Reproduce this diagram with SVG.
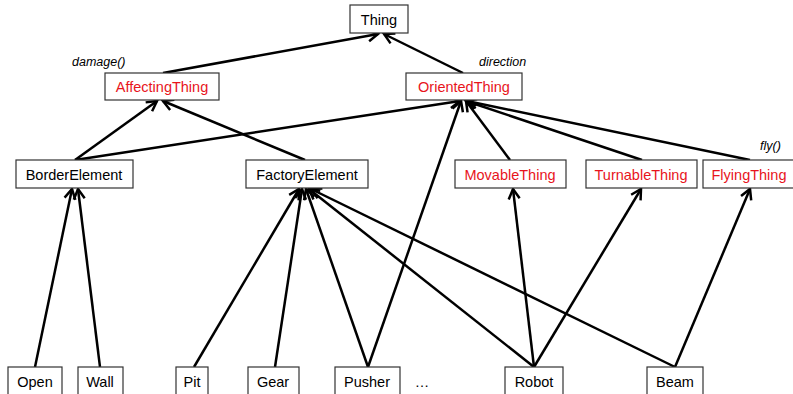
<svg xmlns="http://www.w3.org/2000/svg" width="793" height="394" viewBox="0 0 793 394">
<defs>
<marker id="arr" markerUnits="userSpaceOnUse" markerWidth="14" markerHeight="14" viewBox="0 0 14 14" refX="12" refY="7" orient="auto">
<path d="M2,1.5 L12,7 L2,12.5" fill="none" stroke="#000" stroke-width="2.5" stroke-linejoin="miter"/>
</marker>
</defs>
<style>
rect{fill:#fff;stroke:#333;stroke-width:1.2}
text{font-family:"Liberation Sans",Arial,sans-serif;font-size:14.5px;text-anchor:middle;fill:#000}
.red{fill:#e8141c}
.it{font-style:italic;font-size:12.5px;text-anchor:start}
#edges line{stroke:#000;stroke-width:2.5;marker-end:url(#arr)}
</style>
<g id="edges">
<line x1="163" y1="73" x2="378" y2="34"/>
<line x1="463" y1="73" x2="384" y2="34"/>
<line x1="75" y1="160" x2="157" y2="101"/>
<line x1="305" y1="160" x2="163" y2="101"/>
<line x1="75" y1="160" x2="460" y2="101"/>
<line x1="510" y1="160" x2="466" y2="101"/>
<line x1="642" y1="160" x2="466" y2="101"/>
<line x1="750" y1="160" x2="467" y2="101"/>
<line x1="368" y1="367" x2="461" y2="101"/>
<line x1="35" y1="367" x2="72" y2="189"/>
<line x1="100" y1="367" x2="78" y2="189"/>
<line x1="194" y1="367" x2="299" y2="189"/>
<line x1="275" y1="367" x2="302" y2="189"/>
<line x1="368" y1="367" x2="306" y2="189"/>
<line x1="534" y1="367" x2="309" y2="189"/>
<line x1="675" y1="367" x2="311" y2="189"/>
<line x1="534" y1="367" x2="513" y2="189"/>
<line x1="534" y1="367" x2="641" y2="189"/>
<line x1="675" y1="367" x2="750" y2="189"/>
</g>
<g id="thing"><rect x="350" y="5" width="58" height="28"/><text x="379" y="25">Thing</text></g>
<g id="affectingThing"><rect x="105" y="73" width="114" height="27"/><text class="red" x="162" y="92">AffectingThing</text><text class="it" x="72" y="66">damage()</text></g>
<g id="orientedThing"><rect x="406" y="73" width="116" height="27"/><text class="red" x="464" y="92">OrientedThing</text><text class="it" x="479" y="66">direction</text></g>
<g id="borderElement"><rect x="16" y="160" width="117" height="28"/><text x="74" y="180">BorderElement</text></g>
<g id="factoryElement"><rect x="246" y="160" width="122" height="28"/><text x="307" y="180">FactoryElement</text></g>
<g id="movableThing"><rect x="455" y="160" width="111" height="28"/><text class="red" x="510" y="180">MovableThing</text></g>
<g id="turnableThing"><rect x="586" y="160" width="111" height="28"/><text class="red" x="641" y="180">TurnableThing</text></g>
<g id="flyingThing"><rect x="703" y="160" width="95" height="28"/><text class="red" x="749" y="180">FlyingThing</text><text class="it" x="760" y="150">fly()</text></g>
<g id="open"><rect x="8" y="367" width="54" height="28"/><text x="35" y="387">Open</text></g>
<g id="wall"><rect x="78" y="367" width="45" height="28"/><text x="100" y="387">Wall</text></g>
<g id="pit"><rect x="176" y="367" width="32" height="28"/><text x="192" y="387">Pit</text></g>
<g id="gear"><rect x="248" y="367" width="51" height="28"/><text x="273" y="387">Gear</text></g>
<g id="pusher"><rect x="335" y="367" width="65" height="28"/><text x="367" y="387">Pusher</text></g>
<g id="more"><text x="422" y="387">…</text></g>
<g id="robot"><rect x="505" y="367" width="58" height="28"/><text x="534" y="387">Robot</text></g>
<g id="beam"><rect x="647" y="367" width="56" height="28"/><text x="675" y="387">Beam</text></g>
</svg>
